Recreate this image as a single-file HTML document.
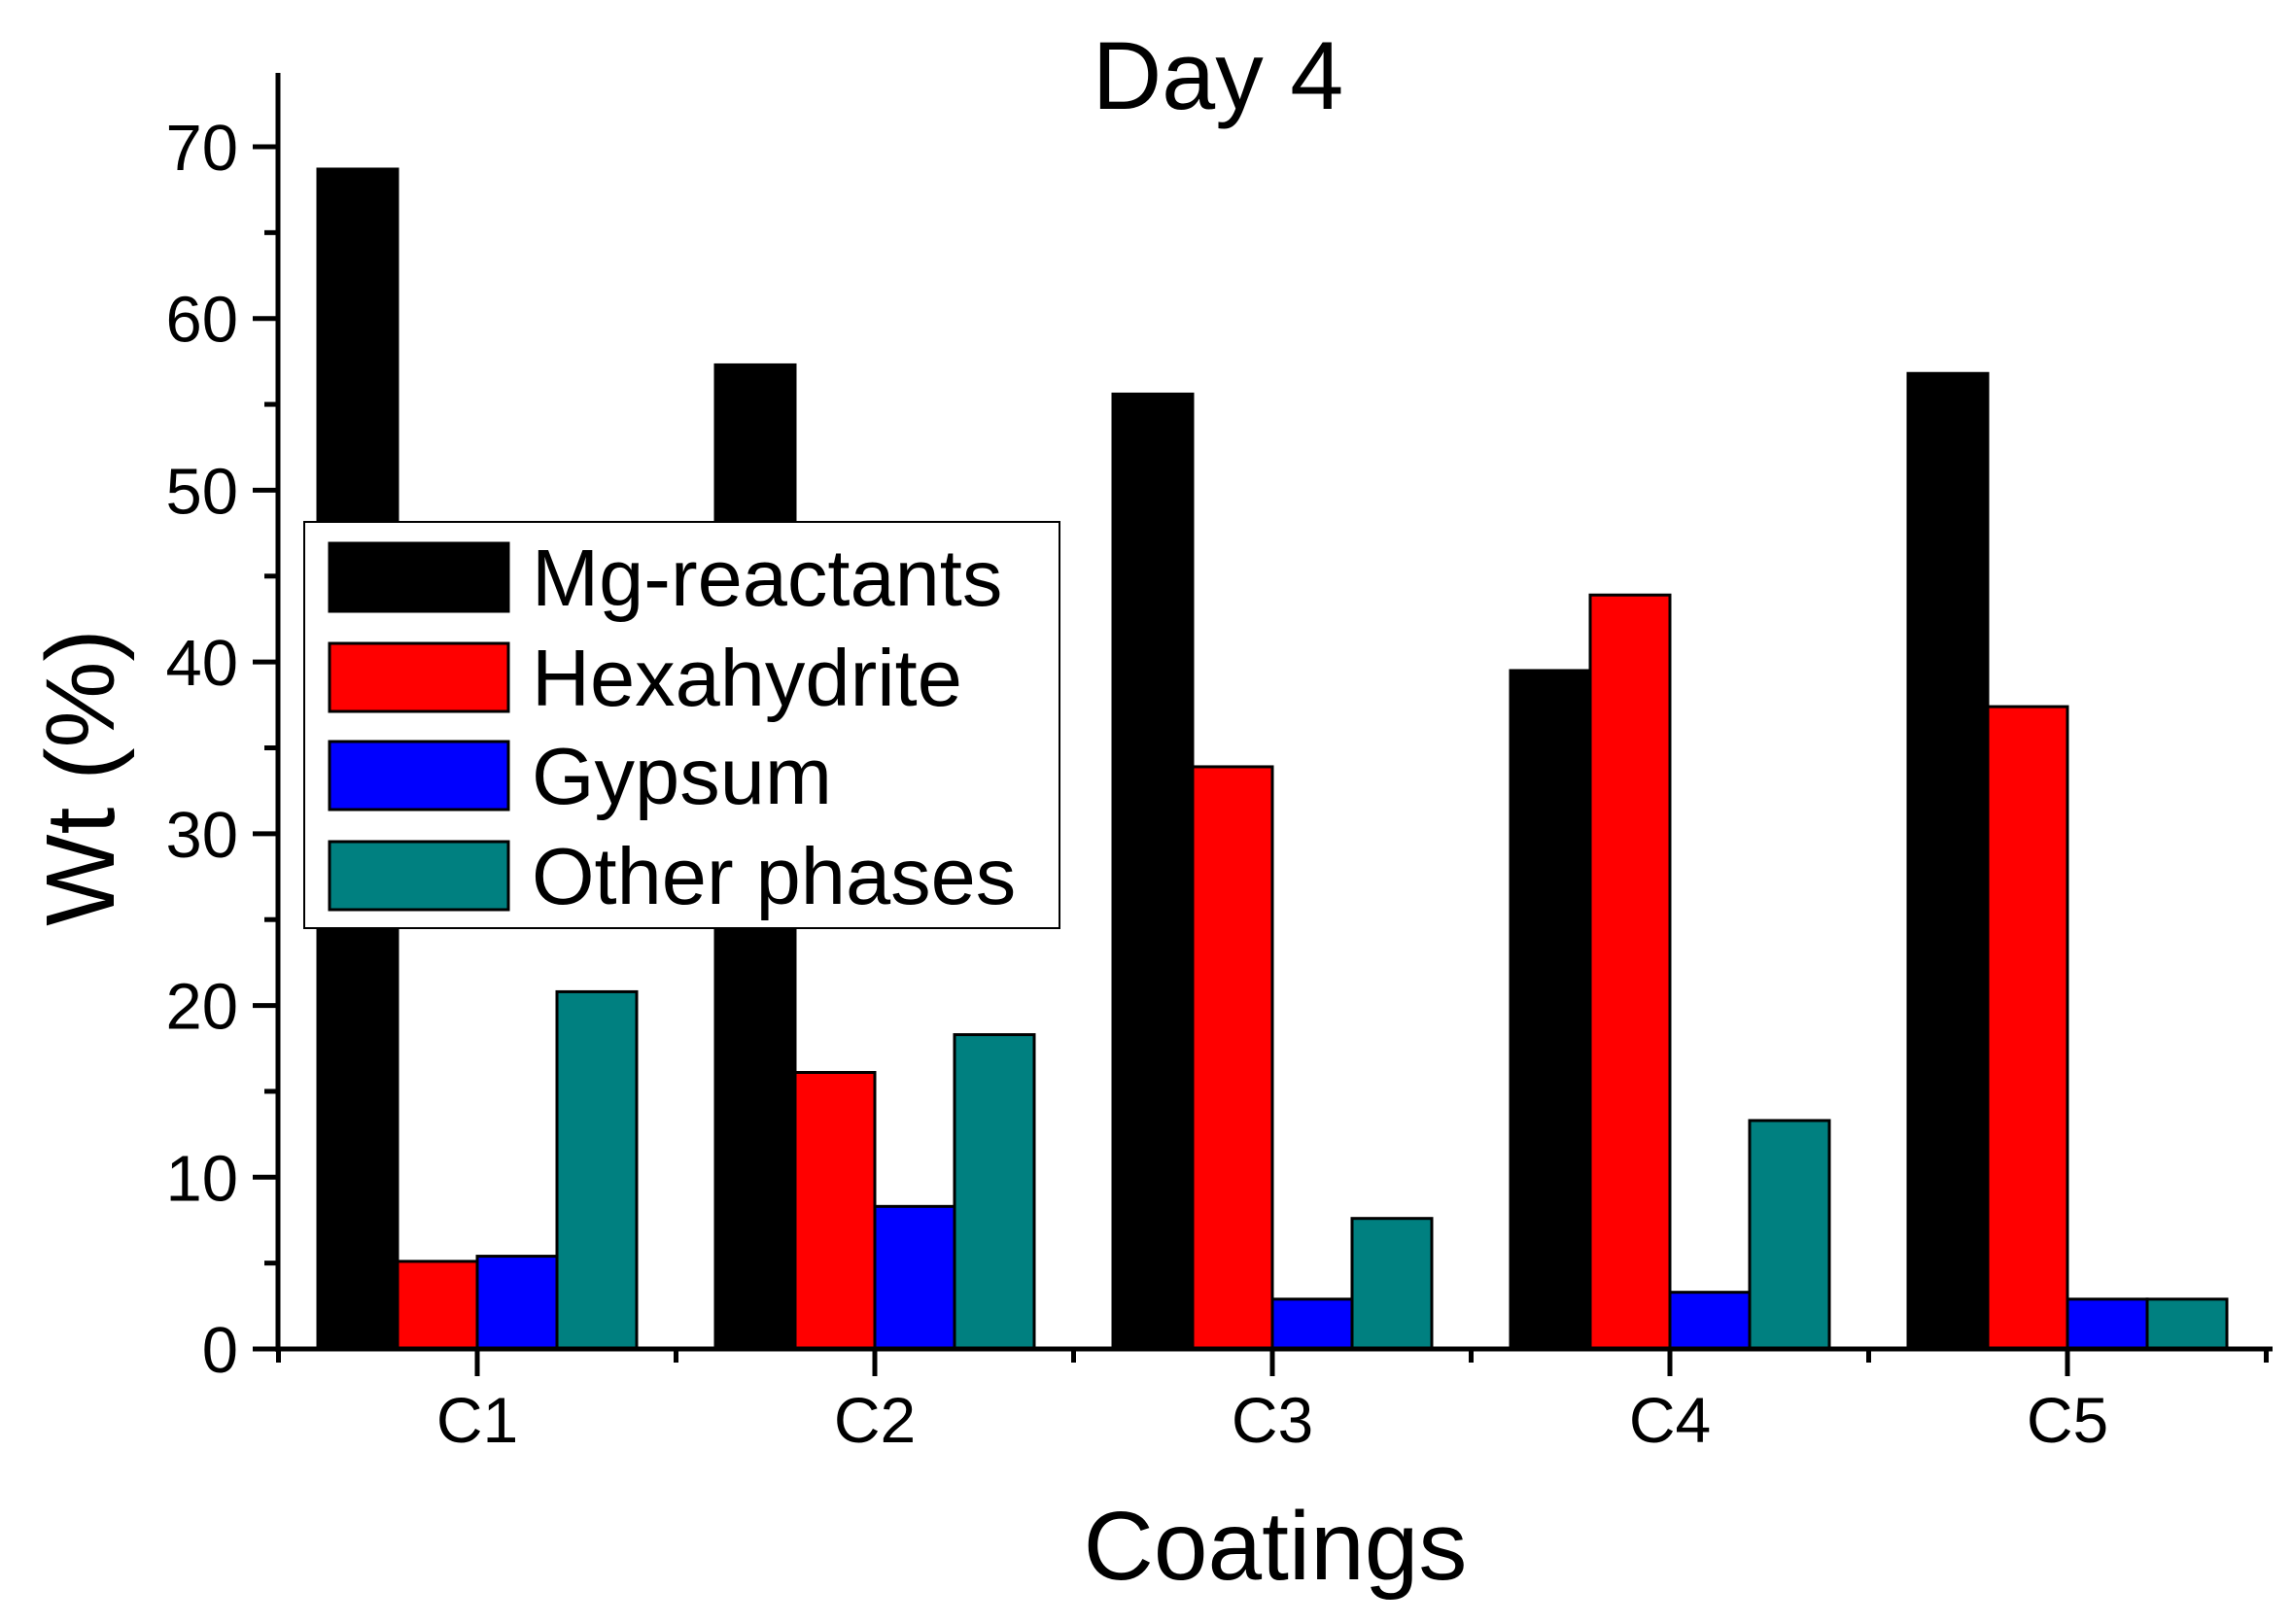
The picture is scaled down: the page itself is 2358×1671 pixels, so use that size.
<!DOCTYPE html>
<html><head><meta charset="utf-8"><style>
body{margin:0;background:#fff}
text{font-family:"Liberation Sans",Arial,sans-serif;fill:#000}
</style></head><body>
<svg id="chart" width="2358" height="1666" viewBox="0 0 2358 1666" xmlns="http://www.w3.org/2000/svg">
<g id="bars"></g>
<g id="axes"></g>
<text x="1253" y="112" font-size="99" text-anchor="middle">Day 4</text>
<text x="1312" y="1625" font-size="100" text-anchor="middle">Coatings</text>
<text transform="translate(117,800) rotate(-90)" font-size="100" text-anchor="middle">Wt (%)</text>
<g id="legend"></g>
</svg>
<script>
const categories = ["C1","C2","C3","C4","C5"];
const seriesNames = ["Mg-reactants","Hexahydrite","Gypsum","Other phases"];
const mgReactants = [68.7, 57.3, 55.6, 39.5, 56.8];
const hexahydrite = [5.1, 16.1, 33.9, 43.9, 37.4];
const gypsum = [5.4, 8.3, 2.9, 3.3, 2.9];
const otherPhases = [20.8, 18.3, 7.6, 13.3, 2.9];
const yTicks = [0,10,20,30,40,50,60,70];
const colors = ["#000000","#ff0000","#0000ff","#008080"];
const series = [mgReactants, hexahydrite, gypsum, otherPhases];

const NS="http://www.w3.org/2000/svg";
const x0=286, xEnd=2338, y0=1388, yTop=75, pxPerUnit=(1388-151)/70;
const groupW=409, firstCenter=491, barW=82;
const yS=v=>y0-v*pxPerUnit;
const xC=i=>firstCenter+i*groupW;
function mk(tag,attrs,parent){const e=document.createElementNS(NS,tag);for(const k in attrs)e.setAttribute(k,attrs[k]);parent.appendChild(e);return e;}
const bars=document.getElementById('bars'), axes=document.getElementById('axes'), legend=document.getElementById('legend');

series.forEach((vals,s)=>{
  vals.forEach((v,i)=>{
    const x=xC(i)-2*barW+s*barW;
    const r=mk('rect',{x:x,y:yS(v),width:barW,height:yS(0)-yS(v),fill:colors[s],stroke:'#000','stroke-width':3},bars);
    
    
  });
});

mk('line',{x1:x0,y1:yTop,x2:x0,y2:y0+3,stroke:'#000','stroke-width':5},axes);
mk('line',{x1:x0-2,y1:y0,x2:xEnd,y2:y0,stroke:'#000','stroke-width':5},axes);
yTicks.forEach(t=>{
  mk('line',{x1:x0-26,y1:yS(t),x2:x0,y2:yS(t),stroke:'#000','stroke-width':5},axes);
  const tx=mk('text',{x:245,y:yS(t)+24,'font-size':67,'text-anchor':'end'},axes);
  tx.textContent=t;
  
  
  if(t<70) mk('line',{x1:x0-14,y1:yS(t+5),x2:x0,y2:yS(t+5),stroke:'#000','stroke-width':5},axes);
});
categories.forEach((c,i)=>{
  mk('line',{x1:xC(i),y1:y0,x2:xC(i),y2:y0+28,stroke:'#000','stroke-width':5},axes);
  mk('line',{x1:xC(i)-groupW/2,y1:y0,x2:xC(i)-groupW/2,y2:y0+14,stroke:'#000','stroke-width':5},axes);
  const tx=mk('text',{x:xC(i),y:1484,'font-size':66,'text-anchor':'middle'},axes);
  tx.textContent=c;
  
  
});
mk('line',{x1:xC(4)+groupW/2,y1:y0,x2:xC(4)+groupW/2,y2:y0+14,stroke:'#000','stroke-width':5},axes);

mk('rect',{x:313,y:537,width:777,height:418,fill:'#fff',stroke:'#000','stroke-width':2},legend);
const rowsY=[594,697,798,901];
seriesNames.forEach((n,s)=>{
  const sw=mk('rect',{x:339,y:rowsY[s]-35,width:184,height:70,fill:colors[s],stroke:'#000','stroke-width':3},legend);
  
  
  const tx=mk('text',{x:547,y:rowsY[s]+29,'font-size':83},legend);
  tx.textContent=n;
  
  
});
</script>
</body></html>
